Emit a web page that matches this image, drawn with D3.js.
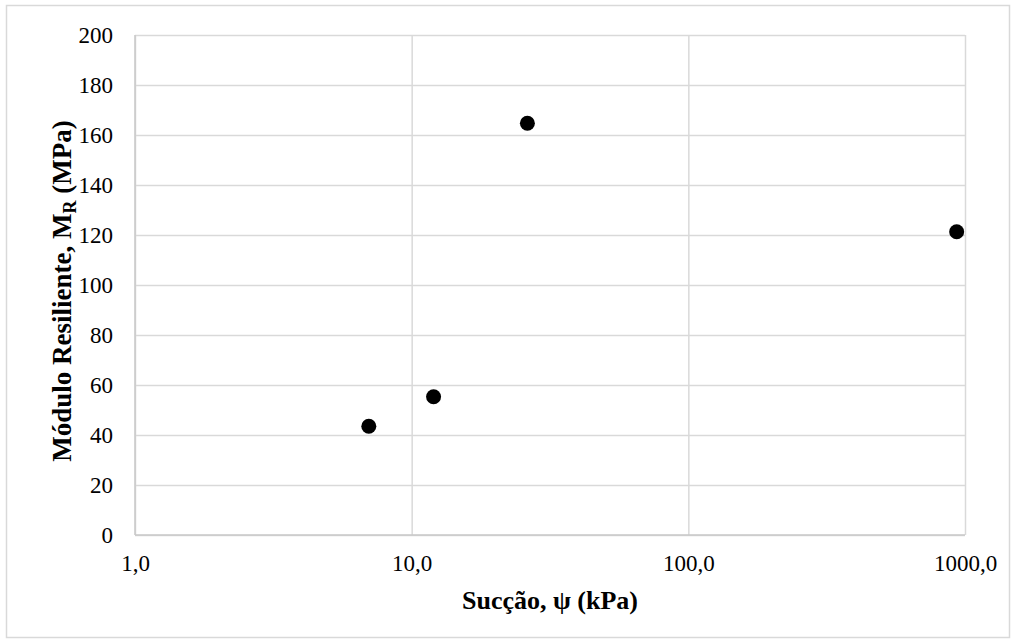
<!DOCTYPE html>
<html>
<head>
<meta charset="utf-8">
<script src="https://cdn.jsdelivr.net/npm/d3@7/dist/d3.min.js"></script>
<style>
  html, body { margin: 0; padding: 0; background: #ffffff; }
  svg { display: block; }
  text { font-family: "Liberation Serif", "Times New Roman", serif; fill: #000; }
</style>
</head>
<body>
<svg id="chart" width="1016" height="644"></svg>
<script>
// Suction (kPa) versus resilient modulus (MPa)
const suction = [7.0, 12.0, 26.2, 933];
const modulus = [43.5, 55.3, 164.7, 121.3];
const xTicks = [1, 10, 100, 1000];
const yTicks = [0, 20, 40, 60, 80, 100, 120, 140, 160, 180, 200];

const svg = d3.select("#chart");
const W = 1016, H = 644;
const m = { left: 135, right: 1016 - 965, top: 35, bottom: 644 - 535 };

// outer frame
svg.append("rect")
  .attr("x", 6.5).attr("y", 5.5)
  .attr("width", W - 13).attr("height", H - 12)
  .attr("fill", "#fff").attr("stroke", "#d9d9d9").attr("stroke-width", 1.5);

const x = d3.scaleLog().domain([1, 1000]).range([m.left, W - m.right]);
const y = d3.scaleLinear().domain([0, 200]).range([H - m.bottom, m.top]);

const fmt = d => d.toFixed(1).replace(".", ",");

// horizontal gridlines + y tick labels
const yAxis = d3.axisLeft(y).tickValues(yTicks).tickSize(-(W - m.left - m.right)).tickPadding(22);
const gy = svg.append("g").attr("transform", `translate(${m.left},0)`).call(yAxis);
gy.select(".domain").remove();
gy.selectAll(".tick line").attr("stroke", "#d9d9d9").attr("stroke-width", 1.5);
gy.selectAll(".tick text").style("font-size", "23px").attr("font-family", "Liberation Serif, serif");

// vertical gridlines + x tick labels
const xAxis = d3.axisBottom(x).tickValues(xTicks).tickFormat(fmt).tickSize(-(H - m.top - m.bottom)).tickPadding(20);
const gx = svg.append("g").attr("transform", `translate(0,${H - m.bottom})`).call(xAxis);
gx.select(".domain").remove();
gx.selectAll(".tick line").attr("stroke", "#d9d9d9").attr("stroke-width", 1.5);
gx.selectAll(".tick text").style("font-size", "23px").attr("font-family", "Liberation Serif, serif");

// axis lines
svg.append("line")
  .attr("x1", m.left).attr("x2", m.left)
  .attr("y1", y(200)).attr("y2", y(0))
  .attr("stroke", "#c8c8c8").attr("stroke-width", 1.5);
svg.append("line")
  .attr("x1", m.left).attr("x2", W - m.right)
  .attr("y1", y(0)).attr("y2", y(0))
  .attr("stroke", "#c8c8c8").attr("stroke-width", 1.5);

// data points
const pts = suction.map((s, i) => ({ s, mr: modulus[i] }));
svg.append("g").selectAll("circle").data(pts).join("circle")
  .attr("cx", d => x(d.s)).attr("cy", d => y(d.mr))
  .attr("r", 7.5).attr("fill", "#000");

// x axis title
svg.append("text")
  .attr("x", (m.left + W - m.right) / 2).attr("y", 609)
  .attr("text-anchor", "middle")
  .style("font-size", "26px").style("font-weight", "bold")
  .text("Sucção, ψ (kPa)");

// y axis title with subscript
const yt = svg.append("text")
  .attr("transform", "translate(71,291) rotate(-90)")
  .attr("text-anchor", "middle")
  .style("font-size", "27px").style("font-weight", "bold");
yt.append("tspan").text("Módulo Resiliente, M");
yt.append("tspan").attr("baseline-shift", "-25%").style("font-size", "18px").text("R");
yt.append("tspan").text(" (MPa)");
</script>
</body>
</html>
